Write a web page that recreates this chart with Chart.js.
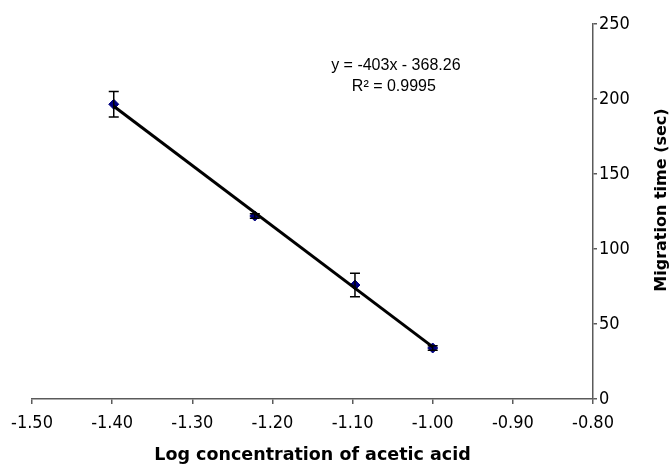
<!DOCTYPE html>
<html>
<head>
<meta charset="utf-8">
<script src="https://cdn.jsdelivr.net/npm/chart.js@4.4.1/dist/chart.umd.min.js"></script>
<style>
  html, body { margin: 0; padding: 0; background: #fff; }
</style>
</head>
<body>
<canvas id="myChart" width="670" height="468"></canvas>
<script>
// log concentration of acetic acid vs migration time
const logConc = [-1.398, -1.222, -1.097, -1.000];
const migTime = [196.5, 122, 76, 34];
const errBar = [8.5, 1.5, 7.8, 1.5];

// linear trendline from the picture
const slope = -403;
const intercept = -368.26;
const rSquared = 0.9995;

const xTicks = [-1.50, -1.40, -1.30, -1.20, -1.10, -1.00, -0.90, -0.80];
const yTicks = [0, 50, 100, 150, 200, 250];

const trendX = [logConc[0], logConc[logConc.length - 1]];

const tickFont = { family: "'DejaVu Sans Condensed', 'DejaVu Sans', sans-serif", size: 18 };
const axisColor = '#5a5a5a';

// error bars drawn with the chart's own scales
const errorBars = {
  id: 'errorBars',
  afterDatasetsDraw(chart) {
    const { ctx, scales: { x, y } } = chart;
    ctx.save();
    ctx.strokeStyle = '#000';
    ctx.lineWidth = 1.5;
    for (let i = 0; i < logConc.length; i++) {
      const px = x.getPixelForValue(logConc[i]);
      const top = y.getPixelForValue(migTime[i] + errBar[i]);
      const bot = y.getPixelForValue(migTime[i] - errBar[i]);
      ctx.beginPath();
      ctx.moveTo(px, top); ctx.lineTo(px, bot);
      ctx.moveTo(px - 5, top); ctx.lineTo(px + 5, top);
      ctx.moveTo(px - 5, bot); ctx.lineTo(px + 5, bot);
      ctx.stroke();
    }
    ctx.restore();
  }
};

// equation label and right-hand axis title
const labels = {
  id: 'labels',
  afterDraw(chart) {
    const { ctx, scales: { x, y } } = chart;
    ctx.save();
    ctx.fillStyle = '#000';
    ctx.textAlign = 'center';
    ctx.textBaseline = 'middle';
    ctx.font = "16px 'Liberation Sans', Arial, sans-serif";
    const ex = x.getPixelForValue(-1.046);
    ctx.fillText(`y = ${slope}x - ${Math.abs(intercept)}`, ex, y.getPixelForValue(222.5));
    ctx.fillText(`R² = ${rSquared}`, ex - 2, y.getPixelForValue(208));

    ctx.font = "bold 16px 'DejaVu Sans', sans-serif";
    ctx.translate(662, 200);
    ctx.rotate(-Math.PI / 2);
    ctx.fillText('Migration time (sec)', 0, 0);
    ctx.restore();
  }
};

new Chart(document.getElementById('myChart'), {
  type: 'scatter',
  data: {
    datasets: [
      {
        label: 'trend',
        type: 'line',
        data: trendX.map(v => ({ x: v, y: slope * v + intercept })),
        borderColor: '#000',
        borderWidth: 3,
        pointRadius: 0,
        order: 0
      },
      {
        label: 'Migration time',
        data: logConc.map((v, i) => ({ x: v, y: migTime[i] })),
        backgroundColor: '#000080',
        borderColor: '#000080',
        pointStyle: 'rectRot',
        pointRadius: 5,
        order: 1
      }
    ]
  },
  options: {
    responsive: false,
    animation: false,
    layout: { padding: { left: 32, top: 24, right: 0, bottom: 0 } },
    plugins: { legend: { display: false }, tooltip: { enabled: false } },
    scales: {
      x: {
        type: 'linear',
        min: -1.5,
        max: -0.8,
        afterBuildTicks: s => { s.ticks = xTicks.map(v => ({ value: v })); },
        afterFit: s => { s.height = 69; },
        ticks: { color: '#000', font: tickFont, padding: 9, maxRotation: 0, callback: v => v.toFixed(2) },
        grid: { drawOnChartArea: false, drawTicks: true, tickLength: 5, color: axisColor, lineWidth: 1.5 },
        border: { display: true, color: axisColor, width: 1.5 },
        title: {
          display: true,
          text: 'Log concentration of acetic acid',
          color: '#000',
          font: { family: "'DejaVu Sans', sans-serif", size: 17.5, weight: 'bold' },
          padding: { top: 0, bottom: 2 }
        }
      },
      y: {
        type: 'linear',
        position: 'right',
        min: 0,
        max: 250,
        afterBuildTicks: s => { s.ticks = yTicks.map(v => ({ value: v })); },
        afterFit: s => { s.width = 77; },
        ticks: { color: '#000', font: tickFont, padding: 2 },
        grid: { drawOnChartArea: false, drawTicks: true, tickLength: 4, color: axisColor, lineWidth: 1.5 },
        border: { display: true, color: axisColor, width: 1.5 }
      }
    }
  },
  plugins: [errorBars, labels]
});
</script>
</body>
</html>
